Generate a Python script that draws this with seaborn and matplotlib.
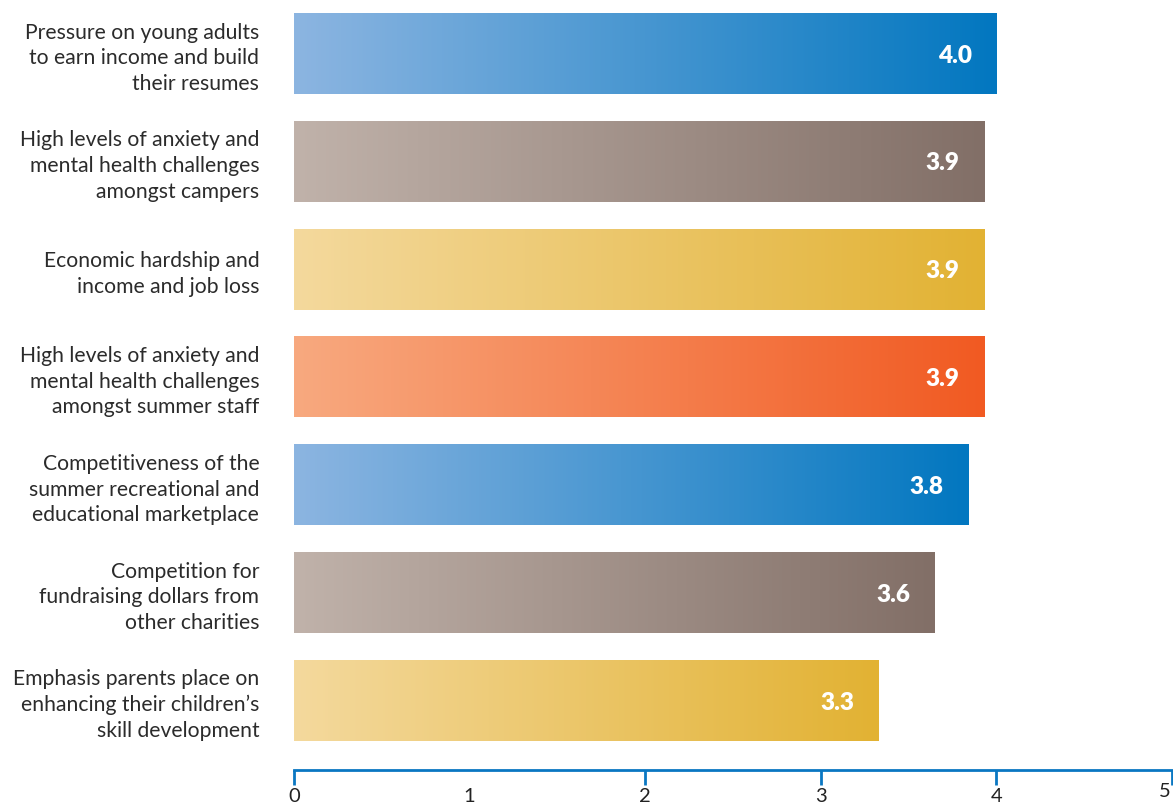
import numpy as np
import pandas as pd
import matplotlib
matplotlib.use('Agg')
import matplotlib.pyplot as plt
from matplotlib.colors import LinearSegmentedColormap
import seaborn as sns

sns.set_style('white')
plt.rcParams['font.family'] = ['Lato', 'DejaVu Sans']

# data
labels = [
    "Pressure on young adults\nto earn income and build\ntheir resumes",
    "High levels of anxiety and\nmental health challenges\namongst campers",
    "Economic hardship and\nincome and job loss",
    "High levels of anxiety and\nmental health challenges\namongst summer staff",
    "Competitiveness of the\nsummer recreational and\neducational marketplace",
    "Competition for\nfundraising dollars from\nother charities",
    "Emphasis parents place on\nenhancing their children\u2019s\nskill development",
]
scores = [4.0, 3.93, 3.93, 3.93, 3.84, 3.65, 3.33]
score_labels = ["4.0", "3.9", "3.9", "3.9", "3.8", "3.6", "3.3"]
x_ticks = [0, 1, 2, 3, 4, 5]

# light -> dark gradient for each bar
gradients = [
    ("#8cb5e1", "#0277c0"),
    ("#c0b2aa", "#826f67"),
    ("#f4d99d", "#e2b233"),
    ("#f8a97f", "#f15a22"),
    ("#8cb5e1", "#0277c0"),
    ("#c0b2aa", "#826f67"),
    ("#f4d99d", "#e2b233"),
]

df = pd.DataFrame({"label": labels, "score": scores})

fig = plt.figure(figsize=(11.73, 8.10), dpi=100)
ax = fig.add_axes([294 / 1173, 40 / 810, 878 / 1173, 770 / 810])

sns.barplot(data=df, x="score", y="label", orient="h", width=0.75,
            color="#cccccc", ax=ax)

grad = np.linspace(0, 1, 256).reshape(1, -1)
for patch, (c0, c1), txt in zip(ax.patches, gradients, score_labels):
    x0, y0 = patch.get_x(), patch.get_y()
    w, h = patch.get_width(), patch.get_height()
    cmap = LinearSegmentedColormap.from_list("g", [c0, c1])
    im = ax.imshow(grad, cmap=cmap, aspect="auto",
                   extent=[x0, x0 + w, y0 + h, y0], zorder=2)
    im.set_clip_path(patch)
    patch.set_facecolor("none")
    patch.set_edgecolor("none")
    ax.text(x0 + w - 0.14, y0 + h / 2 + 0.02, txt, color="white",
            fontsize=17.5, fontweight="heavy", ha="right", va="center", zorder=3)

ax.set_xlim(0, 5)
ax.set_ylim(6.645, -0.495)
ax.set_xlabel("")
ax.set_ylabel("")

# x axis: blue line with downward ticks
for s in ["top", "right", "left"]:
    ax.spines[s].set_visible(False)
ax.spines["bottom"].set_color("#0a77c2")
ax.spines["bottom"].set_linewidth(2)
ax.set_xticks(x_ticks)
# last label is placed by hand below so it stays inside the figure
ax.set_xticklabels([str(t) for t in x_ticks[:-1]] + [""],
                   fontsize=14.5, color="#222222")
ax.tick_params(axis="x", bottom=True, direction="out", length=11, width=2,
               color="#0a77c2", pad=2)
ax.xaxis.get_major_ticks()[1].tick1line.set_visible(False)
ax.annotate(str(x_ticks[-1]), xy=(x_ticks[-1], 0),
            xycoords=("data", "axes fraction"), xytext=(-1, -9.5),
            textcoords="offset points", ha="right", va="top",
            fontsize=14.5, color="#222222", annotation_clip=False)

ax.tick_params(axis="y", left=False, length=0, pad=25)
ax.set_yticks(range(len(labels)))
ax.set_yticklabels(labels, fontsize=15.2, color="#2b2b2b",
                   ha="right", linespacing=1.35)

fig.savefig("out.png", dpi=100)
